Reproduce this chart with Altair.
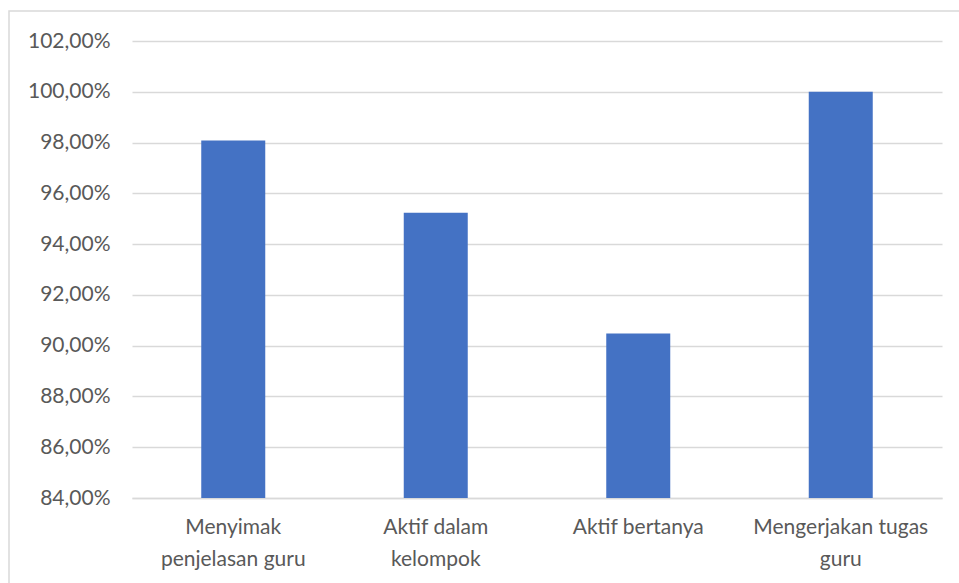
import altair as alt
import pandas as pd

categories = ["Menyimak penjelasan guru", "Aktif dalam kelompok", "Aktif bertanya", "Mengerjakan tugas guru"]
values = [0.9808, 0.9524, 0.9048, 1.0]
label_lines = {
    "Menyimak penjelasan guru": ["Menyimak", "penjelasan guru"],
    "Aktif dalam kelompok": ["Aktif dalam", "kelompok"],
    "Aktif bertanya": ["Aktif bertanya"],
    "Mengerjakan tugas guru": ["Mengerjakan tugas", "guru"],
}
y_ticks = [0.84, 0.86, 0.88, 0.90, 0.92, 0.94, 0.96, 0.98, 1.00, 1.02]

df = pd.DataFrame({"cat": categories, "val": values})

expr = ""
for k, v in label_lines.items():
    arr = "[" + ",".join("'" + s + "'" for s in v) + "]"
    expr += f"datum.label == '{k}' ? {arr} : "
expr += "datum.label"

FONT = "Lato"
W, H = 810, 457

bars = alt.Chart(df).mark_bar(color="#4472c4", size=64, clip=True).encode(
    x=alt.X("cat:N", sort=categories, title=None,
            scale=alt.Scale(paddingInner=0, paddingOuter=0),
            axis=alt.Axis(labelAngle=0, labelExpr=expr, labelFont=FONT, labelFontSize=21,
                          labelColor="#595959", labelPadding=18, labelLineHeight=32,
                          ticks=False, domainColor="#d9d9d9", domainWidth=1.5, grid=False,
                          labelBaseline="top")),
    y=alt.Y("val:Q", title=None,
            scale=alt.Scale(domain=[0.84, 1.02], zero=False, nice=False),
            axis=alt.Axis(values=y_ticks, labelExpr="replace(format(datum.value, '.2%'), '.', ',')",
                          labelFont=FONT, labelFontSize=21, labelColor="#595959",
                          labelPadding=22, ticks=False, domain=False,
                          gridColor="#d9d9d9", gridWidth=1.5)),
)

border = alt.Chart(df).mark_rect(fill=None, stroke="#d9d9d9", strokeWidth=1.5, clip=False).encode(
    x=alt.value(-123), x2=alt.value(W + 200), y=alt.value(-30), y2=alt.value(H + 200)
).transform_filter(alt.datum.cat == categories[0])

chart = alt.layer(border, bars).properties(
    width=W, height=H,
    autosize=alt.AutoSizeParams(type="none"),
    padding={"left": 132, "top": 41, "right": 17, "bottom": 85},
    background="white",
).configure_view(stroke=None)

chart.save("out.html", embed_options={"renderer": "svg", "actions": False})
